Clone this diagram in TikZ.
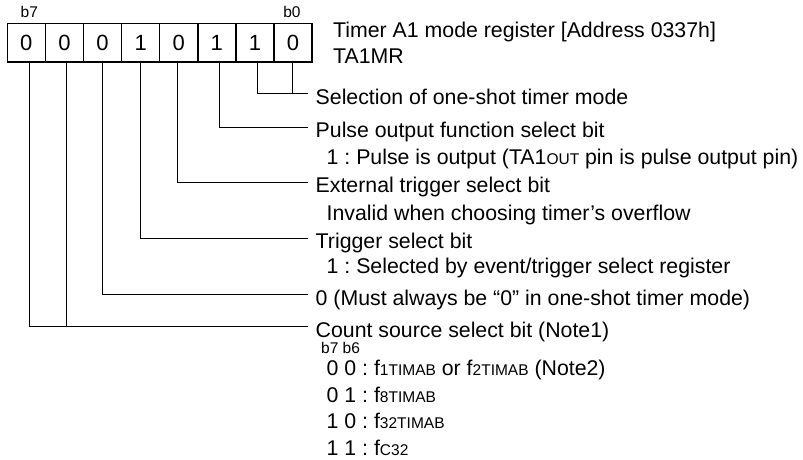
\documentclass[tikz,border=0pt]{standalone}
\usepackage{fontspec}
\setmainfont{Liberation Sans}
\usetikzlibrary{positioning}
\frenchspacing

\newcommand{\sm}[1]{{\fontsize{15.5}{18}\selectfont #1}}

\begin{document}
\begin{tikzpicture}[x=1pt,y=-1pt,
    bitbox/.style={draw,line width=1.5pt,minimum width=38.09pt,minimum height=38.7pt,
        inner sep=0pt,font=\fontsize{22}{26}\selectfont},
    bitno/.style={inner sep=0pt,font=\fontsize{15.5}{18}\selectfont},
    txt/.style={anchor=base west,inner sep=0pt,font=\fontsize{21.3}{26}\selectfont},
    sub/.style={txt,xshift=11pt},
    wire/.style={line width=1pt}]
    \useasboundingbox (0,0) rectangle (803,459);
    \foreach \v [count=\k] in {0,0,0,1,0,1,1,0} {
        \pgfmathtruncatemacro{\b}{8-\k}
        \node[bitbox] (c\b) at ({26.35+38.09*(\k-1)},42.65) {\v};
    }
    \node[bitno,above=5pt of c7,xshift=3pt] (lb7) {b7};
    \node[bitno,above=5pt of c0,xshift=-1pt] (lb0) {b0};
    \node[txt] (title) at (333,37.5) {Timer A1 mode register [Address 0337h]};
    \node[txt] (name) at (333,63.5) {TA1MR};
    \node[txt] (mode) at (315.5,104) {Selection of one-shot timer mode};
    \node[txt] (pulse) at (315.5,137.5) {Pulse output function select bit};
    \node[sub] (pulse1) at (315.5,164) {1 : Pulse is output (TA1\sm{OUT} pin is pulse output pin)};
    \node[txt] (ext) at (315.5,192.5) {External trigger select bit};
    \node[sub] (ext1) at (315.5,220) {Invalid when choosing timer’s overflow};
    \node[txt] (trig) at (315.5,248.5) {Trigger select bit};
    \node[sub] (trig1) at (315.5,273.5) {1 : Selected by event/trigger select register};
    \node[txt] (must) at (315.5,305) {0 (Must always be “0” in one-shot timer mode)};
    \node[txt] (cnt) at (315.5,337) {Count source select bit (Note1)};
    \node[bitno,anchor=base west] (cnthead) at (321,353) {b7 b6};
    \node[sub] (cnt00) at (315.5,375) {0 0 : f\sm{1TIMAB} or f\sm{2TIMAB} (Note2)};
    \node[sub] (cnt01) at (315.5,402) {0 1 : f\sm{8TIMAB}};
    \node[sub] (cnt10) at (315.5,428.5) {1 0 : f\sm{32TIMAB}};
    \node[sub] (cnt11) at (315.5,455) {1 1 : f\sm{C32}};
    \coordinate (e0) at (308,93.5);
    \coordinate (e2) at (308,127);
    \coordinate (e3) at (308,182);
    \coordinate (e4) at (308,238);
    \coordinate (e5) at (308,294.5);
    \coordinate (e6) at (308,326.5);
    \draw[wire] (c0.south) -- (c0.south |- e0);
    \draw[wire] ([xshift=3pt]c1.south) |- (e0);
    \draw[wire] ([xshift=3pt]c2.south) |- (e2);
    \draw[wire] ([xshift=-1pt]c3.south) |- (e3);
    \draw[wire] ([xshift=-0.5pt]c4.south) |- (e4);
    \draw[wire] (c5.south) |- (e5);
    \draw[wire] ([xshift=2pt]c6.south) -- ([xshift=2pt]c6.south |- e6);
    \draw[wire] ([xshift=3pt]c7.south) |- (e6);
\end{tikzpicture}
\end{document}
